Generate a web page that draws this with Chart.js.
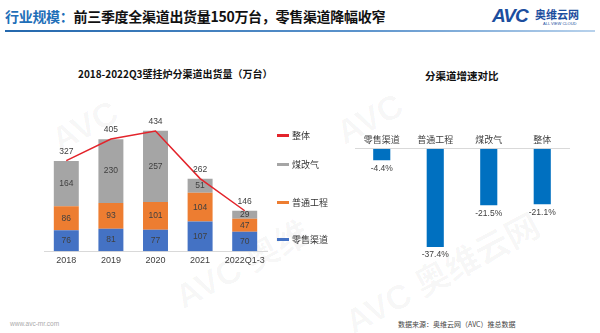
<!DOCTYPE html>
<html>
<head>
<meta charset="utf-8">
<script src="https://cdn.jsdelivr.net/npm/chart.js@4.4.0/dist/chart.umd.min.js"></script>
<style>
  html, body { margin: 0; padding: 0; background: #fff; }
  body { width: 600px; height: 333px; position: relative; overflow: hidden;
         font-family: "Liberation Sans", "Noto Sans CJK SC", sans-serif; }
  .abs { position: absolute; white-space: nowrap; }
  #pageTitle { left: 5px; top: 6px; font-size: 14px; font-weight: bold; color: #111;
               font-family: "Noto Sans CJK SC", sans-serif; letter-spacing: -0.3px; }
  #pageTitle span { color: #1f6fb8; }
  #rule { left: 5px; top: 30px; width: 590px; height: 2px;
          background: linear-gradient(to right, #2468ad, #5b93cc 60%, #b8d2ec); }
  .ctitle { font-size: 10px; font-weight: bold; color: #111; font-family: "Noto Sans CJK SC", sans-serif; }
  .wm { color: rgba(0,0,0,0.035); font-weight: bold; transform: rotate(-28deg); transform-origin: left top; }
  .legend { position: absolute; left: 277px; font-size: 9px; color: #333;
            font-family: "Noto Sans CJK SC", sans-serif; display: flex; align-items: center; }
  .legend i { display: inline-block; width: 12px; height: 3px; margin-right: 3px; }
  .chartbox { position: absolute; }
</style>
</head>
<body>
<div id="pageTitle" class="abs"><span>行业规模：</span>前三季度全渠道出货量150万台，零售渠道降幅收窄</div>
<div id="rule" class="abs"></div>

<div class="abs" style="left:492px; top:5px; font-size:19px; font-weight:bold; font-style:italic; color:#1c4e9e; letter-spacing:-1px;">AVC</div>
<div class="abs" style="left:535px; top:6px; font-size:11px; font-weight:bold; color:#1c4e9e; font-family:'Noto Sans CJK SC';">奥维云网</div>
<div class="abs" style="left:543px; top:21px; font-size:4px; color:#1c4e9e;">ALL VIEW CLOUD</div>

<!-- watermarks -->
<div class="abs wm" style="left:45px; top:125px; font-size:34px;">AVC</div>
<div class="abs wm" style="left:165px; top:275px; font-size:34px;">AVC 奥维</div>
<div class="abs wm" style="left:330px; top:118px; font-size:34px;">AVC</div>
<div class="abs wm" style="left:335px; top:300px; font-size:34px;">AVC 奥维云网</div>

<div class="abs ctitle" style="left:78px; top:66px;">2018-2022Q3壁挂炉分渠道出货量（万台）</div>
<div class="abs ctitle" style="left:425px; top:68px; font-size:10.5px;">分渠道增速对比</div>

<div class="chartbox" style="left:0; top:62px; width:330px; height:215px;"><canvas id="leftChart"></canvas></div>
<div class="chartbox" style="left:330px; top:131px; width:270px; height:162px;"><canvas id="rightChart"></canvas></div>
<div id="legendBox"></div>

<div class="abs" style="left:10px; top:320px; font-size:6.5px; color:#aaa;">www.avc-mr.com</div>
<div class="abs" style="left:398px; top:319px; font-size:7px; color:#444; font-family:'Noto Sans CJK SC';">数据来源：奥维云网（AVC）推总数据</div>

<script>
// ---- data ----
const years = ['2018', '2019', '2020', '2021', '2022Q1-3'];
const retail = [76, 81, 77, 107, 70];
const engineering = [86, 93, 101, 104, 47];
const coalToGas = [164, 230, 257, 51, 29];
const totals = [327, 405, 434, 262, 146];

const growthLabels = ['零售渠道', '普通工程', '煤改气', '整体'];
const growthValues = [-4.4, -37.4, -21.5, -21.1];

const seriesNames = { total: '整体', coal: '煤改气', eng: '普通工程', retail: '零售渠道' };
const colors = { total: '#e3242b', coal: '#a5a5a5', eng: '#ed7d31', retail: '#4472c4', growth: '#0070c0' };

const baseFont = { family: "'Liberation Sans', 'Noto Sans CJK SC', sans-serif", size: 9 };

// simple in-house value label plugin
const valueLabels = {
    id: 'valueLabels',
    afterDatasetsDraw(chart) {
        const ctx = chart.ctx;
        ctx.save();
        ctx.font = "8.5px 'Liberation Sans', 'Noto Sans CJK SC', sans-serif";
        ctx.fillStyle = '#404040';
        ctx.textAlign = 'center';
        ctx.textBaseline = 'middle';
        chart.data.datasets.forEach((ds, i) => {
            const meta = chart.getDatasetMeta(i);
            meta.data.forEach((el, j) => {
                const v = ds.data[j];
                if (ds.labelMode === 'inside') {
                    ctx.fillText(v, el.x, (el.y + el.base) / 2);
                } else if (ds.labelMode === 'above') {
                    ctx.fillText(v, el.x, el.y - 9);
                } else if (ds.labelMode === 'below') {
                    ctx.fillText(v.toFixed(1) + '%', el.x, el.y + 8);
                }
            });
        });
        ctx.restore();
    }
};

// Left: stacked bars + total line
const ctxL = document.getElementById('leftChart').getContext('2d');
new Chart(ctxL, {
    type: 'bar',
    data: {
        labels: years,
        datasets: [
            {
                type: 'line', label: seriesNames.total, data: totals, stack: 'line',
                borderColor: colors.total, borderWidth: 1.5, pointRadius: 0, tension: 0,
                order: 0, labelMode: 'above'
            },
            { label: seriesNames.retail, data: retail, backgroundColor: colors.retail, stack: 'ch', order: 1, labelMode: 'inside' },
            { label: seriesNames.eng, data: engineering, backgroundColor: colors.eng, stack: 'ch', order: 1, labelMode: 'inside' },
            { label: seriesNames.coal, data: coalToGas, backgroundColor: colors.coal, stack: 'ch', order: 1, labelMode: 'inside' }
        ]
    },
    options: {
        responsive: true,
        maintainAspectRatio: false,
        animation: false,
        layout: { padding: { left: 44, right: 63, top: 23, bottom: 7 } },
        datasets: { bar: { categoryPercentage: 1, barPercentage: 0.56 } },
        plugins: { legend: { display: false }, tooltip: { enabled: false } },
        scales: {
            x: {
                stacked: true,
                grid: { display: false, drawTicks: false },
                border: { color: '#d9d9d9' },
                ticks: { color: '#404040', font: baseFont, padding: 4, maxRotation: 0, minRotation: 0, autoSkip: false }
            },
            y: { stacked: true, display: false, min: 0, max: 600 }
        }
    },
    plugins: [valueLabels]
});

// legend (built from the series names / colours)
const legendTops = [129, 158, 196, 233];
const legendBox = document.getElementById('legendBox');
['total', 'coal', 'eng', 'retail'].forEach((k, i) => {
    const d = document.createElement('div');
    d.className = 'legend';
    d.style.top = legendTops[i] + 'px';
    d.innerHTML = `<i style="background:${colors[k]}"></i>${seriesNames[k]}`;
    legendBox.appendChild(d);
});

// Right: growth comparison
const ctxR = document.getElementById('rightChart').getContext('2d');
new Chart(ctxR, {
    type: 'bar',
    data: {
        labels: growthLabels,
        datasets: [{
            label: '增速', data: growthValues, backgroundColor: colors.growth, labelMode: 'below'
        }]
    },
    options: {
        responsive: true,
        maintainAspectRatio: false,
        animation: false,
        layout: { padding: { left: 25, right: 31, top: 0, bottom: 26 } },
        datasets: { bar: { categoryPercentage: 1, barPercentage: 0.32 } },
        plugins: { legend: { display: false }, tooltip: { enabled: false } },
        scales: {
            x: {
                position: 'top',
                grid: { display: false, drawTicks: false },
                border: { color: '#d9d9d9' },
                ticks: { color: '#404040', font: { ...baseFont, family: "'Noto Sans CJK SC', sans-serif" }, padding: 3.5, maxRotation: 0 }
            },
            y: { display: false, min: -45, max: 0 }
        }
    },
    plugins: [valueLabels]
});
</script>
</body>
</html>
